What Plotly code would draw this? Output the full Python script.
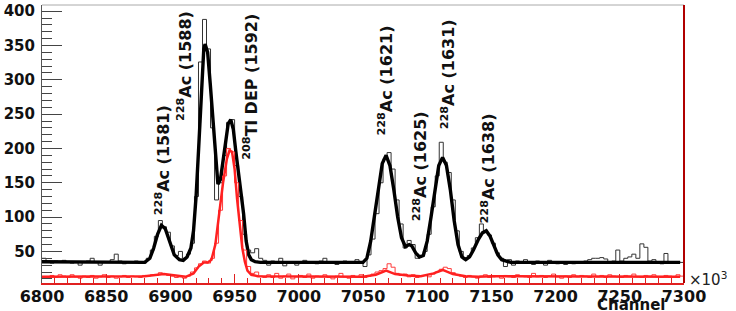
import plotly.graph_objects as go

# ---------------- data ----------------
bin_start = 6800.0
bin_width = 3.125

black_hist = [
    40, 36, 33, 36, 35, 37, 34, 33, 35, 30,
    34, 36, 40, 34, 30, 35, 34, 38, 46, 36,
    32, 35, 34, 36, 34, 33, 40, 52, 72, 95,
    86, 78, 58, 44, 50, 40, 46, 62, 130, 326,
    388, 345, 230, 125, 150, 190, 238, 242, 175, 130,
    75, 52, 48, 54, 40, 37, 30, 36, 34, 40,
    29, 35, 33, 30, 34, 37, 33, 35, 32, 36,
    40, 33, 35, 31, 34, 36, 33, 35, 38, 34,
    28, 45, 68, 105, 150, 185, 194, 170, 125, 90,
    55, 66, 60, 40, 44, 50, 75, 115, 160, 209,
    180, 165, 125, 80, 50, 38, 44, 55, 70, 90,
    80, 74, 62, 48, 40, 28, 38, 30, 36, 34,
    38, 33, 31, 36, 34, 30, 37, 35, 32, 33,
    31, 34, 32, 35, 34, 36, 38, 40, 40, 41,
    39, 33, 36, 52, 36, 40, 42, 46, 40, 61,
    56, 36, 38, 35, 32, 47, 34, 33, 35, 34,
]

red_hist = [
    13, 11, 15, 12, 16, 14, 12, 16, 13, 11,
    14, 12, 15, 11, 13, 16, 12, 14, 11, 13,
    15, 12, 14, 13, 12, 15, 14, 16, 15, 19,
    17, 15, 14, 12, 13, 11, 14, 20, 26, 32,
    36, 33, 40, 62, 110, 160, 200, 195, 150, 95,
    52, 28, 18, 20, 14, 12, 16, 12, 18, 11,
    14, 17, 10, 13, 15, 12, 17, 11, 14, 13,
    16, 12, 10, 14, 18, 13, 11, 15, 12, 16,
    12, 14, 17, 20, 22, 25, 32, 27, 18, 15,
    17, 13, 16, 12, 14, 15, 13, 17, 20, 24,
    27, 25, 19, 16, 14, 12, 15, 13, 11, 14,
    16, 12, 13, 14, 11, 15, 13, 12, 16, 14,
    13, 12, 18, 13, 15, 12, 14, 17, 13, 11,
    14, 12, 16, 13, 15, 14, 12, 17, 13, 15,
    12, 16, 14, 13, 12, 15, 14, 17, 13, 12,
    15, 14, 16, 13, 12, 15, 14, 13, 16, 14,
]

black_fit_x = [6800, 6880, 6884, 6887, 6890, 6893, 6896, 6899, 6903, 6907,
               6910, 6913, 6916, 6918, 6920, 6922, 6924, 6926, 6927, 6929,
               6931, 6933, 6935, 6937, 6939, 6941, 6943, 6945, 6947, 6949,
               6951, 6953, 6955, 6957, 6959, 6961, 6963, 6966, 6970, 7050,
               7053, 7056, 7059, 7062, 7065, 7068, 7071, 7074, 7077, 7080,
               7083, 7086, 7088, 7091, 7094, 7097, 7100, 7103, 7106, 7109,
               7112, 7115, 7118, 7121, 7124, 7127, 7130, 7133, 7136, 7140,
               7143, 7146, 7149, 7152, 7155, 7158, 7162, 7165, 7297]
black_fit_y = [35, 34, 40, 55, 75, 88, 83, 65, 45, 38,
               37, 42, 55, 80, 130, 200, 280, 345, 352, 340,
               295, 240, 195, 148, 155, 185, 215, 236, 242, 228,
               195, 160, 135, 105, 65, 45, 38, 35, 34, 34,
               40, 65, 105, 145, 178, 190, 175, 140, 100, 70,
               57, 60, 58, 48, 42, 44, 65, 100, 140, 175,
               187, 175, 140, 95, 60, 42, 38, 42, 52, 68,
               77, 80, 72, 58, 45, 38, 35, 34, 34]

red_fit_x = [6800, 6880, 6895, 6905, 6912, 6918, 6922, 6926, 6929, 6932,
             6935, 6938, 6941, 6944, 6946, 6948, 6950, 6952, 6954, 6956,
             6958, 6960, 6963, 6968, 7050, 7060, 7068, 7075, 7085, 7095,
             7105, 7112, 7120, 7130, 7140, 7150, 7297]
red_fit_y = [13, 14, 17, 15, 13, 18, 28, 34, 34, 38,
             60, 105, 150, 185, 197, 195, 170, 125, 85, 55,
             35, 22, 16, 14, 13, 16, 22, 17, 15, 14,
             18, 23, 17, 14, 13, 14, 13]

x_ticks = [6800, 6850, 6900, 6950, 7000, 7050, 7100, 7150, 7200, 7250, 7300]
y_ticks = [50, 100, 150, 200, 250, 300, 350, 400]

peak_labels = ["<sup>228</sup>Ac (1581)", "<sup>228</sup>Ac (1588)",
               "<sup>208</sup>Tl DEP (1592)", "<sup>228</sup>Ac (1621)",
               "<sup>228</sup>Ac (1625)", "<sup>228</sup>Ac (1631)",
               "<sup>228</sup>Ac (1638)"]
label_x = [6893.5, 6910.6, 6962.8, 7067.9, 7094.4, 7116.2, 7147.4]
label_y = [183, 320, 290, 299, 174, 308, 171]

# ---------------- figure ----------------
def step_xy(vals):
    edges = [bin_start + bin_width * i for i in range(len(vals) + 1)]
    return edges, list(vals) + [vals[-1]]

fig = go.Figure()
bx, by = step_xy(black_hist)
fig.add_trace(go.Scatter(x=bx, y=by, mode="lines", line=dict(color="#333333", width=1, shape="hv"),
                         showlegend=False, hoverinfo="skip"))
fig.add_trace(go.Scatter(x=black_fit_x, y=black_fit_y, mode="lines",
                         line=dict(color="#000000", width=3.4), showlegend=False))
rx, ry = step_xy(red_hist)
fig.add_trace(go.Scatter(x=rx, y=ry, mode="lines", line=dict(color="#ff3b3b", width=1, shape="hv"),
                         showlegend=False, hoverinfo="skip"))
fig.add_trace(go.Scatter(x=red_fit_x, y=red_fit_y, mode="lines",
                         line=dict(color="#ff2020", width=2.5), showlegend=False))

font_b = dict(family="DejaVu Sans", size=16, color="#111111", weight="bold")

for t, xv, yv in zip(peak_labels, label_x, label_y):
    fig.add_annotation(x=xv, y=yv, xref="x", yref="y", text=t, textangle=-90,
                       showarrow=False, font=font_b, xanchor="center", yanchor="middle")

fig.add_annotation(x=1.005, y=0.015, xref="paper", yref="paper", text="×10<sup>3</sup>",
                   showarrow=False, xanchor="left", yanchor="middle",
                   font=dict(family="DejaVu Sans", size=15, color="#222222"))
fig.add_annotation(x=0.918, y=-0.078, xref="paper", yref="paper", text="Channel",
                   showarrow=False, xanchor="center", yanchor="middle",
                   font=dict(family="DejaVu Sans", size=15, color="#111111", weight="bold"))

fig.add_shape(type="line", xref="paper", yref="paper", x0=0, x1=1, y0=1, y1=1,
              line=dict(color="#aaaaaa", width=1))
fig.add_shape(type="line", xref="paper", yref="paper", x0=1, x1=1, y0=0, y1=1,
              line=dict(color="#b00000", width=2))

fig.update_xaxes(range=[6800, 7300], tickvals=x_ticks, ticktext=[str(v) for v in x_ticks],
                 automargin=False, ticklabelstandoff=-2,
                 ticks="inside", ticklen=9, tickcolor="#e02020", tickwidth=1,
                 minor=dict(dtick=10, tick0=6800, ticks="inside", ticklen=5, tickcolor="#e02020"),
                 showline=True, linecolor="#e02020", linewidth=1.5, showgrid=False, zeroline=False,
                 tickfont=dict(family="DejaVu Sans", size=16, color="#111111", weight="bold"))
fig.update_yaxes(range=[4, 409], tickvals=y_ticks, ticktext=[str(v) for v in y_ticks],
                 automargin=False, ticklabelstandoff=3,
                 ticks="inside", ticklen=20, tickcolor="#444444", tickwidth=1,
                 minor=dict(dtick=10, tick0=0, ticks="inside", ticklen=10, tickcolor="#444444"),
                 showline=True, linecolor="#555555", linewidth=1, showgrid=False, zeroline=False,
                 tickfont=dict(family="DejaVu Sans", size=15, color="#111111", weight="bold"))

fig.update_layout(width=736, height=311, margin=dict(l=42, r=52, t=5, b=28, autoexpand=False),
                  plot_bgcolor="white", paper_bgcolor="white", showlegend=False)

fig.write_html("out.html", post_script="document.body.style.margin='0px';",
               config={"displayModeBar": False})
